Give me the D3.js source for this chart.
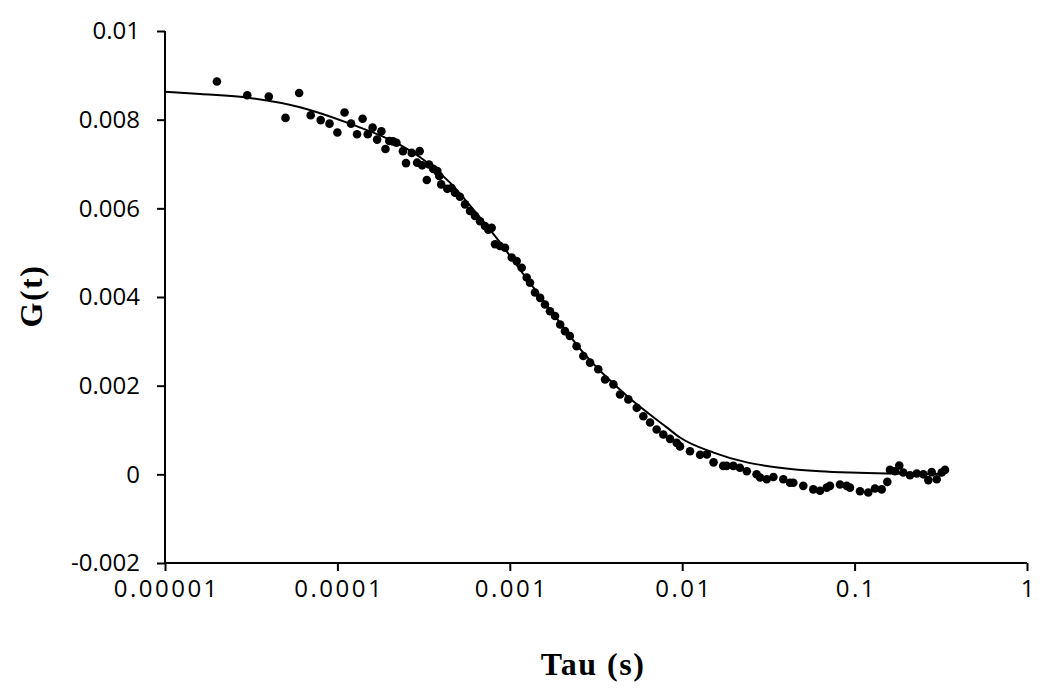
<!DOCTYPE html>
<html>
<head>
<meta charset="utf-8">
<script src="https://cdn.jsdelivr.net/npm/d3@7"></script>
<style>
  html, body { margin: 0; padding: 0; background: #fff; }
  .axis path, .axis line { stroke: #000; stroke-width: 2px; }
  .axis text { font-family: "Open Sans", sans-serif; fill: #000; }
  .axis--y text { font-size: 24px; }
  .axis--x text { font-size: 24px; letter-spacing: 2.5px; }
  .title { font-family: "Liberation Serif", serif; font-weight: bold; fill: #000; letter-spacing: 1.5px; }
</style>
</head>
<body>
<div id="chart-wrap"></div>
<script>
// measured correlation points (tau in s, G(t))
const tau = [
  2e-5, 3e-5, 4e-5, 5e-5, 6e-5, 7e-5, 8e-5, 9e-5, 1.0e-4, 1.1e-4,
  1.2e-4, 1.3e-4, 1.4e-4, 1.5e-4, 1.6e-4, 1.7e-4, 1.8e-4, 1.9e-4, 2.0e-4, 2.1e-4,
  2.2e-4, 2.4e-4, 2.5e-4, 2.7e-4, 2.9e-4, 3.0e-4, 3.1e-4, 3.3e-4, 3.4e-4, 3.6e-4,
  3.8e-4, 3.9e-4, 4.0e-4, 4.34e-4, 4.6e-4, 4.81e-4, 5.14e-4, 5.5e-4, 5.88e-4, 6.28e-4,
  6.72e-4, 7.18e-4, 7.5e-4, 7.85e-4, 8.21e-4, 8.77e-4, 9.38e-4, 1.026e-3, 1.096e-3, 1.172e-3,
  1.253e-3, 1.31e-3, 1.40e-3, 1.50e-3, 1.60e-3, 1.71e-3, 1.83e-3, 1.96e-3, 2.09e-3, 2.23e-3,
  2.44e-3, 2.67e-3, 2.92e-3, 3.26e-3, 3.57e-3, 3.99e-3, 4.36e-3, 4.87e-3, 5.45e-3, 5.95e-3,
  6.51e-3, 7.11e-3, 7.77e-3, 8.5e-3, 9.29e-3, 9.71e-3, 1.11e-2, 1.27e-2, 1.39e-2, 1.52e-2,
  1.73e-2, 1.81e-2, 1.98e-2, 2.16e-2, 2.37e-2, 2.70e-2, 2.83e-2, 3.09e-2, 3.38e-2, 3.86e-2,
  4.22e-2, 4.41e-2, 5.04e-2, 5.76e-2, 6.3e-2, 6.89e-2, 7.2e-2, 8.23e-2, 9.0e-2, 9.4e-2,
  0.1075, 0.120, 0.1313, 0.1436, 0.1548, 0.1604, 0.1715, 0.1816, 0.1916, 0.2096,
  0.2292, 0.2503, 0.2677, 0.280, 0.2994, 0.320, 0.3344
];
const g = [
  0.00886, 0.00855, 0.00852, 0.00804, 0.00860, 0.00810, 0.00799, 0.00791, 0.00771, 0.00816,
  0.00791, 0.00767, 0.00802, 0.00767, 0.00782, 0.00755, 0.00774, 0.00734, 0.00752, 0.00751,
  0.00748, 0.00729, 0.00702, 0.00725, 0.00703, 0.00729, 0.00697, 0.00664, 0.00699, 0.00689,
  0.00684, 0.00673, 0.00654, 0.00644, 0.00646, 0.00635, 0.00626, 0.00609, 0.00594, 0.00583,
  0.00571, 0.00560, 0.00552, 0.00556, 0.00519, 0.00515, 0.00511, 0.00489, 0.00481, 0.00466,
  0.00444, 0.00432, 0.00410, 0.00398, 0.00383, 0.00368, 0.00357, 0.00338, 0.00323, 0.00312,
  0.00289, 0.00267, 0.00252, 0.00237, 0.00214, 0.00203, 0.00180, 0.00169, 0.00150, 0.00131,
  0.00117, 0.00101, 0.00090, 0.00080, 0.00071, 0.00063, 0.00052, 0.00044, 0.00045, 0.00027,
  0.00019, 0.00019, 0.00019, 0.00015, 0.00007, 0.00000, -0.00007, -0.00011, -0.00006, -0.00011,
  -0.00019, -0.00019, -0.00026, -0.00034, -0.00037, -0.00030, -0.00026, -0.00023, -0.00026, -0.00030,
  -0.00038, -0.00041, -0.00032, -0.00034, -0.00017, 0.00010, 0.00007, 0.00020, 0.00004, -0.00002,
  0.00002, 0.00000, -0.00013, 0.00005, -0.00011, 0.00004, 0.00010
];

// fitted curve
const fitTau = [1e-5, 1.6e-5, 3.11e-5, 6.07e-5, 1.18e-4, 2.31e-4, 3.2e-4, 4.5e-4, 6.28e-4, 8.77e-4,
  1.19e-3, 1.71e-3, 2.66e-3, 4.77e-3, 8.13e-3, 9.71e-3, 1.52e-2, 2.37e-2, 3.69e-2, 6.3e-2,
  9.4e-2, 0.154, 0.334];
const fitG = [0.00863, 0.00858, 0.00849, 0.00828, 0.00791, 0.00743, 0.00708, 0.00658, 0.00593, 0.00523,
  0.00453, 0.00372, 0.00275, 0.00177, 0.00106, 0.00083, 0.00049, 0.00027, 0.00015, 0.00007,
  0.00004, 0.00002, 0.00001];

const tauTicks = [1e-5, 1e-4, 1e-3, 1e-2, 1e-1, 1];
const tauTickLabels = ["0.00001", "0.0001", "0.001", "0.01", "0.1", "1"];
const gTicks = [-0.002, 0, 0.002, 0.004, 0.006, 0.008, 0.01];
const gTickLabels = ["-0.002", "0", "0.002", "0.004", "0.006", "0.008", "0.01"];

var margin = { top: 31, right: 23, bottom: 130, left: 165 },
  width = 1050 - margin.left - margin.right,
  height = 693 - margin.top - margin.bottom;

var x = d3.scaleLog().domain([1e-5, 1]).range([0, width]);
var y = d3.scaleLinear().domain([-0.002, 0.01]).range([height, 0]);

var svg = d3.select("#chart-wrap")
  .append("svg")
  .attr("width", 1050)
  .attr("height", 693)
  .append("g")
  .attr("transform", "translate(" + margin.left + "," + margin.top + ")");

var yAxis = d3.axisLeft(y)
  .tickValues(gTicks)
  .tickSize(8)
  .tickPadding(17)
  .tickFormat(function(d, i) { return gTickLabels[i]; });

var xAxis = d3.axisBottom(x)
  .tickValues(tauTicks)
  .tickSize(8)
  .tickPadding(9)
  .tickFormat(function(d, i) { return tauTickLabels[i]; });

svg.append("g").attr("class", "axis axis--y").call(yAxis);
svg.append("g").attr("class", "axis axis--x")
  .attr("transform", "translate(0," + height + ")")
  .call(xAxis);

// letter-spacing adds a trailing gap, nudge to keep labels centred
svg.selectAll(".axis--x text").attr("dx", "1.25px");

svg.selectAll(".axis .domain").attr("d", function() {
  return this.parentNode.classList.contains("axis--y")
    ? "M0,0V" + height
    : "M0,0H" + width;
});

var line = d3.line()
  .x(function(d, i) { return x(fitTau[i]); })
  .y(function(d) { return y(d); })
  .curve(d3.curveMonotoneX);

svg.append("g")
  .selectAll("circle")
  .data(g)
  .enter()
  .append("circle")
  .attr("cx", function(d, i) { return x(tau[i]); })
  .attr("cy", function(d) { return y(d); })
  .attr("r", 4.3)
  .attr("fill", "#000");

svg.append("path")
  .datum(fitG)
  .attr("d", line)
  .attr("fill", "none")
  .attr("stroke", "#000")
  .attr("stroke-width", 2);

svg.append("text")
  .attr("class", "title")
  .attr("x", x(0.003) + 1)
  .attr("y", height + 112)
  .attr("text-anchor", "middle")
  .attr("font-size", "32px")
  .text("Tau (s)");

svg.append("text")
  .attr("class", "title")
  .attr("transform", "translate(" + (-123) + "," + (height / 2 - 1) + ") rotate(-90)")
  .attr("text-anchor", "middle")
  .attr("font-size", "32px")
  .text("G(t)");
</script>
</body>
</html>
